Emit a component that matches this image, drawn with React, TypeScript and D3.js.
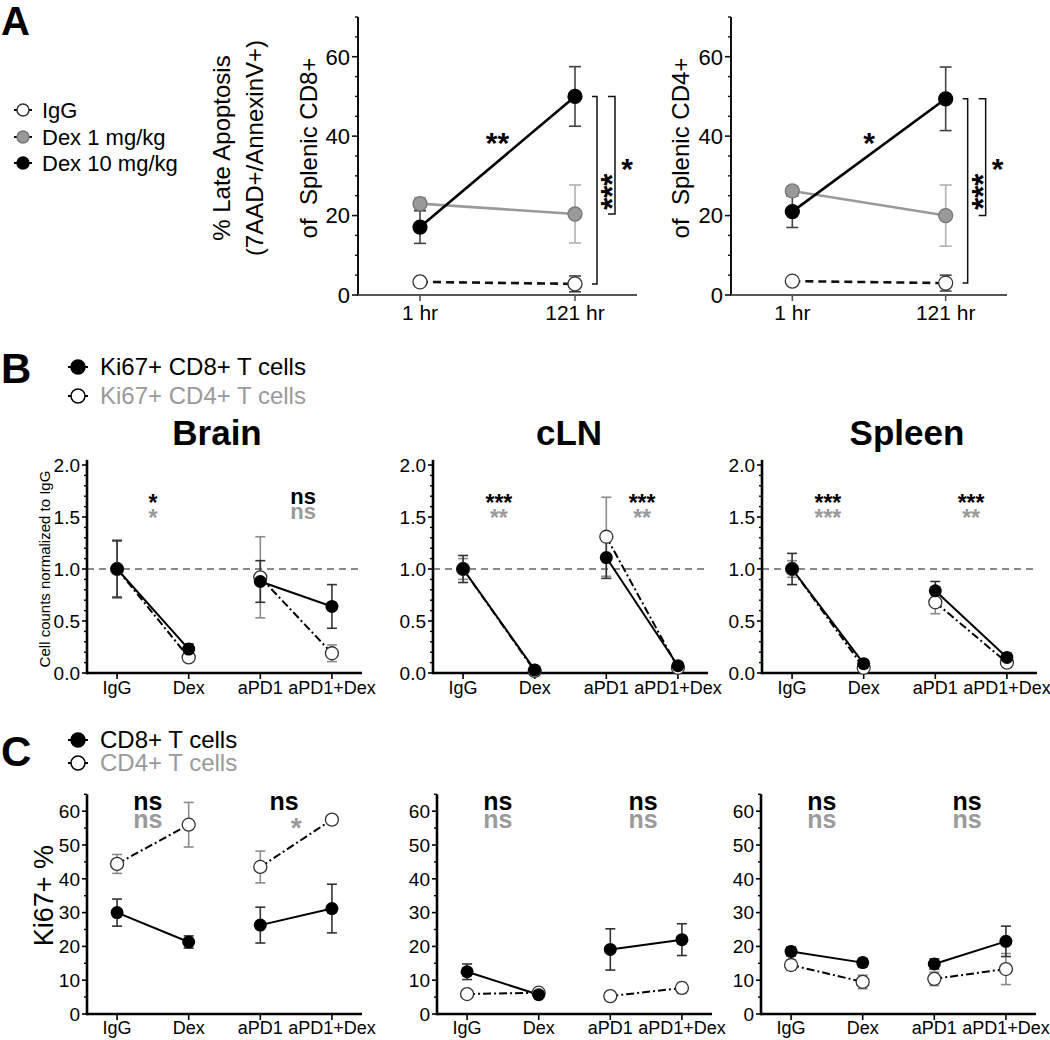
import React from "react";
import * as d3 from "d3";

const FONT = "'Liberation Sans', Arial, Helvetica, sans-serif";
const GREY_TEXT = "#9a9a9a";

// ---------------- Panel A data ----------------
const timepoints = ["1 hr", "121 hr"];
const legendA = ["IgG", "Dex 1 mg/kg", "Dex 10 mg/kg"];
const aCD8_IgG = [3.3, 2.8];
const aCD8_IgG_sem = [0.5, 2.0];
const aCD8_Dex1 = [23.0, 20.4];
const aCD8_Dex1_sem = [1.5, 7.3];
const aCD8_Dex10 = [17.1, 50.0];
const aCD8_Dex10_sem = [4.1, 7.5];
const aCD4_IgG = [3.5, 3.0];
const aCD4_IgG_sem = [0.5, 2.0];
const aCD4_Dex1 = [26.2, 20.0];
const aCD4_Dex1_sem = [1.3, 7.7];
const aCD4_Dex10 = [21.0, 49.4];
const aCD4_Dex10_sem = [4.0, 8.0];
const aYTicks = [0, 20, 40, 60];
const aYMinor = [5, 10, 15, 25, 30, 35, 45, 50, 55, 65, 70];
const aSigLine = ["**", "*"];
const aSigOuter = ["***", "***"];
const aSigInner = ["*", "*"];
const aYLabels = [["% Late Apoptosis", "(7AAD+/AnnexinV+)", "of  Splenic CD8+"], ["of  Splenic CD4+"]];

// ---------------- Panel B data ----------------
const treatments = ["IgG", "Dex", "aPD1", "aPD1+Dex"];
const tissues = ["Brain", "cLN", "Spleen"];
const legendB = ["Ki67+ CD8+ T cells", "Ki67+ CD4+ T cells"];
const bBrainCD8 = [1.0, 0.23, 0.88, 0.64];
const bBrainCD8_sem = [0.27, 0.05, 0.2, 0.21];
const bBrainCD4 = [1.0, 0.15, 0.92, 0.19];
const bBrainCD4_sem = [0.28, 0.03, 0.39, 0.08];
const bClnCD8 = [1.0, 0.03, 1.11, 0.07];
const bClnCD8_sem = [0.13, 0.01, 0.2, 0.02];
const bClnCD4 = [1.0, 0.02, 1.31, 0.05];
const bClnCD4_sem = [0.1, 0.01, 0.38, 0.02];
const bSpleenCD8 = [1.0, 0.09, 0.79, 0.15];
const bSpleenCD8_sem = [0.15, 0.02, 0.09, 0.04];
const bSpleenCD4 = [1.0, 0.05, 0.68, 0.1];
const bSpleenCD4_sem = [0.08, 0.01, 0.11, 0.03];
const bSigCD8 = [["*", "ns"], ["***", "***"], ["***", "***"]];
const bSigCD4 = [["*", "ns"], ["**", "**"], ["***", "**"]];
const bYTicks = [0, 0.5, 1.0, 1.5, 2.0];
const bYMinor = [0.1, 0.2, 0.3, 0.4, 0.6, 0.7, 0.8, 0.9, 1.1, 1.2, 1.3, 1.4, 1.6, 1.7, 1.8, 1.9];

// ---------------- Panel C data ----------------
const legendC = ["CD8+ T cells", "CD4+ T cells"];
const cBrainCD8 = [30.0, 21.3, 26.3, 31.2];
const cBrainCD8_sem = [4.0, 1.8, 5.3, 7.2];
const cBrainCD4 = [44.4, 56.0, 43.5, 57.5];
const cBrainCD4_sem = [2.8, 6.6, 4.7, 1.3];
const cClnCD8 = [12.5, 5.7, 19.1, 22.0];
const cClnCD8_sem = [2.3, 0.6, 6.1, 4.7];
const cClnCD4 = [5.9, 6.3, 5.3, 7.7];
const cClnCD4_sem = [0.5, 0.6, 0.5, 1.6];
const cSpleenCD8 = [18.5, 15.2, 14.8, 21.5];
const cSpleenCD8_sem = [1.3, 1.2, 1.5, 4.5];
const cSpleenCD4 = [14.5, 9.5, 10.4, 13.3];
const cSpleenCD4_sem = [1.5, 2.0, 2.0, 4.6];
const cSigCD8 = [["ns", "ns"], ["ns", "ns"], ["ns", "ns"]];
const cSigCD4 = [["ns", "*"], ["ns", "ns"], ["ns", "ns"]];
const cYTicks = [0, 10, 20, 30, 40, 50, 60];
const cYMinor = [5, 15, 25, 35, 45, 55, 65];

// ---------------- helpers ----------------
function SigText({ x, cy, text, fs, fill, rotate = false }: any) {
  const isStar = text.indexOf("*") >= 0;
  const off = isStar ? 0.56 * fs : 0.27 * fs;
  if (rotate) {
    return (
      <text transform={`translate(${x + off},${cy}) rotate(-90)`} textAnchor="middle" fontSize={fs} fill={fill} fontWeight="bold">
        {text}
      </text>
    );
  }
  return (
    <text x={x} y={cy + off} textAnchor="middle" fontSize={fs} fill={fill} fontWeight="bold">
      {text}
    </text>
  );
}

function YAxis({ x, scale, major, minor, fmt, fs, sw = 2, tickLen = 6, minorLen = 3, color = "#000" }: any) {
  const [d0, d1] = scale.domain();
  return (
    <g>
      <line x1={x} x2={x} y1={scale(d0) + sw / 2} y2={scale(d1)} stroke={color} strokeWidth={sw} />
      {major.map((v: number) => (
        <g key={"M" + v}>
          <line x1={x - tickLen} x2={x} y1={scale(v)} y2={scale(v)} stroke={color} strokeWidth={1.6} />
          <text x={x - tickLen - 2} y={scale(v)} dy="0.36em" textAnchor="end" fontSize={fs} fill="#000">
            {fmt(v)}
          </text>
        </g>
      ))}
      {minor.map((v: number) => (
        <line key={"m" + v} x1={x - minorLen} x2={x} y1={scale(v)} y2={scale(v)} stroke={color} strokeWidth={1.4} />
      ))}
    </g>
  );
}

function XAxis({ x0, x1, y, xs, cats, fs, labelY, color = "#000", sw = 2 }: any) {
  return (
    <g>
      <line x1={x0} x2={x1} y1={y} y2={y} stroke={color} strokeWidth={sw} />
      {cats.map((c: string) => (
        <g key={c}>
          <line x1={xs(c)} x2={xs(c)} y1={y} y2={y + 6} stroke={color} strokeWidth={1.6} />
          <text x={xs(c)} y={labelY} textAnchor="middle" fontSize={fs} fill="#000">
            {c}
          </text>
        </g>
      ))}
    </g>
  );
}

function ErrBar({ x, y, v, e, cap, color, sw = 1.6 }: any) {
  const yt = y(v + e);
  const yb = y(Math.max(0, v - e));
  return (
    <g stroke={color} strokeWidth={sw}>
      <line x1={x} x2={x} y1={yt} y2={yb} />
      <line x1={x - cap} x2={x + cap} y1={yt} y2={yt} />
      <line x1={x - cap} x2={x + cap} y1={yb} y2={yb} />
    </g>
  );
}

function LegendMarker({ x, y, fill, stroke, r = 6 }: any) {
  return (
    <g>
      <line x1={x - r - 3} x2={x + r + 3} y1={y} y2={y} stroke="#000" strokeWidth={2} />
      <circle cx={x} cy={y} r={r} fill={fill} stroke={stroke} strokeWidth={1.5} />
    </g>
  );
}

// ---------------- Panel A ----------------
const yA = d3.scaleLinear().domain([0, 70]).range([295, 17]);
const aLayout = [
  { axisX: 358, right: 637, labelX: [221, 254, 308] },
  { axisX: 731, right: 1007, labelX: [680] },
];
const aStyles = [
  { fill: "#fff", stroke: "#333", line: "#111", dash: "8,5", err: "#444" },
  { fill: "#999", stroke: "#777", line: "#9a9a9a", dash: null, err: "#b0b0b0" },
  { fill: "#000", stroke: "#000", line: "#000", dash: null, err: "#444" },
];

function aLabelsFor(idx: number, L: any) {
  return aYLabels[idx].map((t, i) => (
    <text key={t} transform={`translate(${L.labelX[i]},${yA(37)}) rotate(-90)`} dy="0.36em" textAnchor="middle" fontSize={24} fill="#000" style={{ whiteSpace: "pre" }}>
      {t}
    </text>
  ));
}

function PanelAChart({ idx, series }: any) {
  const L = aLayout[idx];
  const x = d3.scalePoint().domain(timepoints).range([L.axisX, L.right]).padding(0.4);
  const lineGen = d3
    .line<number>()
    .x((_d, i) => x(timepoints[i]) as number)
    .y((d) => yA(d));
  const xEnd = x(timepoints[1]) as number;
  const igg = series[0].v;
  const d1 = series[1].v;
  const d10 = series[2].v;
  const br1 = xEnd + 22;
  const br2 = xEnd + 40;
  return (
    <g>
      <YAxis x={L.axisX} scale={yA} major={aYTicks} minor={aYMinor} fmt={(v: number) => String(v)} fs={22} sw={2} color="#111" />
      <XAxis x0={L.axisX} x1={L.right} y={yA(0)} xs={x} cats={timepoints} fs={21} labelY={320} color="#555" />
      {aLabelsFor(idx, L)}
      {series.map((s: any, i: number) => (
        <path key={"l" + i} d={lineGen(s.v) as string} fill="none" stroke={aStyles[i].line} strokeWidth={2.6} strokeDasharray={aStyles[i].dash || undefined} />
      ))}
      {series.map((s: any, i: number) =>
        s.v.map((v: number, j: number) => (
          <ErrBar key={"e" + i + j} x={x(timepoints[j])} y={yA} v={v} e={s.e[j]} cap={6} color={aStyles[i].err} />
        ))
      )}
      {series.map((s: any, i: number) =>
        s.v.map((v: number, j: number) => (
          <circle key={"c" + i + j} cx={x(timepoints[j]) as number} cy={yA(v)} r={7} fill={aStyles[i].fill} stroke={aStyles[i].stroke} strokeWidth={1.3} />
        ))
      )}
      <SigText x={((x(timepoints[0]) as number) + xEnd) / 2} cy={yA(40)} text={aSigLine[idx]} fs={30} fill="#000" />
      <path d={`M${br1 - 5},${yA(d10[1])} H${br1} V${yA(igg[1])} H${br1 - 5}`} fill="none" stroke="#111" strokeWidth={1.5} />
      <path d={`M${br2 - 7},${yA(d10[1])} H${br2} V${yA(d1[1])} H${br2 - 7}`} fill="none" stroke="#111" strokeWidth={1.5} />
      <SigText x={xEnd + 31} cy={yA(26)} text={aSigOuter[idx]} fs={31} fill="#000" rotate />
      <SigText x={xEnd + 52} cy={yA(33.5)} text={aSigInner[idx]} fs={30} fill="#000" />
    </g>
  );
}

function PanelA() {
  const cd8 = [
    { v: aCD8_IgG, e: aCD8_IgG_sem },
    { v: aCD8_Dex1, e: aCD8_Dex1_sem },
    { v: aCD8_Dex10, e: aCD8_Dex10_sem },
  ];
  const cd4 = [
    { v: aCD4_IgG, e: aCD4_IgG_sem },
    { v: aCD4_Dex1, e: aCD4_Dex1_sem },
    { v: aCD4_Dex10, e: aCD4_Dex10_sem },
  ];
  const legY = [110, 137, 163];
  return (
    <g>
      <text x={1} y={35} fontSize={40} fontWeight="bold">A</text>
      {legendA.map((t, i) => (
        <g key={t}>
          <LegendMarker x={23} y={legY[i]} fill={aStyles[i].fill} stroke={aStyles[i].stroke} r={6} />
          <text x={42} y={legY[i]} dy="0.36em" fontSize={22}>{t}</text>
        </g>
      ))}
      <PanelAChart idx={0} series={cd8} />
      <PanelAChart idx={1} series={cd4} />
    </g>
  );
}

// ---------------- Panels B & C ----------------
const bY = d3.scaleLinear().domain([0, 2.05]).range([673, 673 - 2.05 * 104]);
const cY = d3.scaleLinear().domain([0, 65]).range([1014, 1014 - 65 * 3.38]);
const bAxisX = [87, 433, 762];
const cAxisX = [87, 437, 761];
const chartW = 275;
const titleOffsets = [130, 136, 145];

function GroupChart({ axisX, y, major, minor, fmt, tickFs, cd8, cd8e, cd4, cd4e, sig8, sig4, sigY, sigFs, starFs, star4Fs, refLine, labelY, nsShift }: any) {
  const x = d3.scalePoint().domain(treatments).range([axisX, axisX + chartW]).padding(0.42);
  const px = (i: number) => x(treatments[i]) as number;
  const seg = (vals: number[], a: number, b: number) => `M${px(a)},${y(vals[a])} L${px(b)},${y(vals[b])}`;
  const pairs = [[0, 1], [2, 3]];
  return (
    <g>
      {refLine && (
        <line x1={axisX} x2={axisX + chartW} y1={y(1)} y2={y(1)} stroke="#8a8a8a" strokeWidth={2.2} strokeDasharray="7,5" />
      )}
      <YAxis x={axisX} scale={y} major={major} minor={minor} fmt={fmt} fs={tickFs} sw={2.6} tickLen={5} minorLen={3} />
      <XAxis x0={axisX} x1={axisX + chartW} y={y(0)} xs={x} cats={treatments} fs={18} labelY={labelY} sw={2.6} />
      {pairs.map(([a, b]) => (
        <path key={"d" + a} d={seg(cd4, a, b)} stroke="#000" strokeWidth={2} strokeDasharray="8,3,2,3" fill="none" />
      ))}
      {pairs.map(([a, b]) => (
        <path key={"s" + a} d={seg(cd8, a, b)} stroke="#000" strokeWidth={2} fill="none" />
      ))}
      {cd4.map((v: number, i: number) => (
        <ErrBar key={"e4" + i} x={px(i)} y={y} v={v} e={cd4e[i]} cap={5} color="#8c8c8c" />
      ))}
      {cd8.map((v: number, i: number) => (
        <ErrBar key={"e8" + i} x={px(i)} y={y} v={v} e={cd8e[i]} cap={5} color="#333" />
      ))}
      {cd4.map((v: number, i: number) => (
        <circle key={"c4" + i} cx={px(i)} cy={y(v)} r={6.5} fill="#fff" stroke="#333" strokeWidth={1.3} />
      ))}
      {cd8.map((v: number, i: number) => (
        <circle key={"c8" + i} cx={px(i)} cy={y(v)} r={6.5} fill="#000" />
      ))}
      {pairs.map(([a, b], k) => {
        const mid = (px(a) + px(b)) / 2;
        const s8 = sig8[k];
        const s4 = sig4[k];
        return (
          <g key={"sig" + k}>
            <SigText x={s8 === "ns" ? mid + nsShift[k] : mid} cy={sigY[0]} text={s8} fs={s8 === "ns" ? sigFs : starFs} fill="#000" />
            <SigText x={s4 === "ns" ? mid + nsShift[k] : mid} cy={sigY[1]} text={s4} fs={s4 === "ns" ? sigFs : star4Fs} fill={GREY_TEXT} />
          </g>
        );
      })}
    </g>
  );
}

function PanelB() {
  const data = [
    { cd8: bBrainCD8, cd8e: bBrainCD8_sem, cd4: bBrainCD4, cd4e: bBrainCD4_sem },
    { cd8: bClnCD8, cd8e: bClnCD8_sem, cd4: bClnCD4, cd4e: bClnCD4_sem },
    { cd8: bSpleenCD8, cd8e: bSpleenCD8_sem, cd4: bSpleenCD4, cd4e: bSpleenCD4_sem },
  ];
  const nsShifts = [[0, 7], [0, 0], [0, 0]];
  return (
    <g>
      <text x={1} y={383} fontSize={42} fontWeight="bold">B</text>
      <LegendMarker x={78} y={367} fill="#000" stroke="#000" r={7} />
      <text x={100} y={375} fontSize={24}>{legendB[0]}</text>
      <LegendMarker x={78} y={396} fill="#fff" stroke="#000" r={7} />
      <text x={100} y={404} fontSize={24} fill={GREY_TEXT}>{legendB[1]}</text>
      {tissues.map((t, i) => (
        <text key={t} x={bAxisX[i] + titleOffsets[i]} y={445} textAnchor="middle" fontSize={35} fontWeight="bold">{t}</text>
      ))}
      <text transform={`translate(45,${bY(1.0)}) rotate(-90)`} dy="0.36em" textAnchor="middle" fontSize={15}>Cell counts normalized to IgG</text>
      {data.map((d, i) => (
        <GroupChart
          key={i}
          axisX={bAxisX[i]}
          y={bY}
          major={bYTicks}
          minor={bYMinor}
          fmt={(v: number) => v.toFixed(1)}
          tickFs={19}
          {...d}
          sig8={bSigCD8[i]}
          sig4={bSigCD4[i]}
          sigY={[498, 513]}
          sigFs={22}
          starFs={23}
          star4Fs={23}
          refLine
          labelY={694}
          nsShift={nsShifts[i]}
        />
      ))}
    </g>
  );
}

function PanelC() {
  const data = [
    { cd8: cBrainCD8, cd8e: cBrainCD8_sem, cd4: cBrainCD4, cd4e: cBrainCD4_sem },
    { cd8: cClnCD8, cd8e: cClnCD8_sem, cd4: cClnCD4, cd4e: cClnCD4_sem },
    { cd8: cSpleenCD8, cd8e: cSpleenCD8_sem, cd4: cSpleenCD4, cd4e: cSpleenCD4_sem },
  ];
  const nsShifts = [[-5, -12], [-5, -3], [-5, -3]];
  return (
    <g>
      <text x={1} y={766} fontSize={42} fontWeight="bold">C</text>
      <LegendMarker x={78} y={740} fill="#000" stroke="#000" r={7} />
      <text x={100} y={748} fontSize={24}>{legendC[0]}</text>
      <LegendMarker x={78} y={763} fill="#fff" stroke="#000" r={7} />
      <text x={100} y={771} fontSize={24} fill={GREY_TEXT}>{legendC[1]}</text>
      <text transform={`translate(43,${cY(35)}) rotate(-90)`} dy="0.36em" textAnchor="middle" fontSize={27}>Ki67+ %</text>
      {data.map((d, i) => (
        <GroupChart
          key={i}
          axisX={cAxisX[i]}
          y={cY}
          major={cYTicks}
          minor={cYMinor}
          fmt={(v: number) => String(v)}
          tickFs={19}
          {...d}
          sig8={cSigCD8[i]}
          sig4={cSigCD4[i]}
          sigY={[803, 821]}
          sigFs={25}
          starFs={26}
          star4Fs={28}
          refLine={false}
          labelY={1034}
          nsShift={nsShifts[i]}
        />
      ))}
    </g>
  );
}

export default function App() {
  return (
    <svg
      width={1050}
      height={1040}
      viewBox="0 0 1050 1040"
      style={{ position: "absolute", left: 0, top: 0, display: "block", background: "#fff" }}
      fontFamily={FONT}
    >
      <rect width={1050} height={1040} fill="#fff" />
      <PanelA />
      <PanelB />
      <PanelC />
    </svg>
  );
}
